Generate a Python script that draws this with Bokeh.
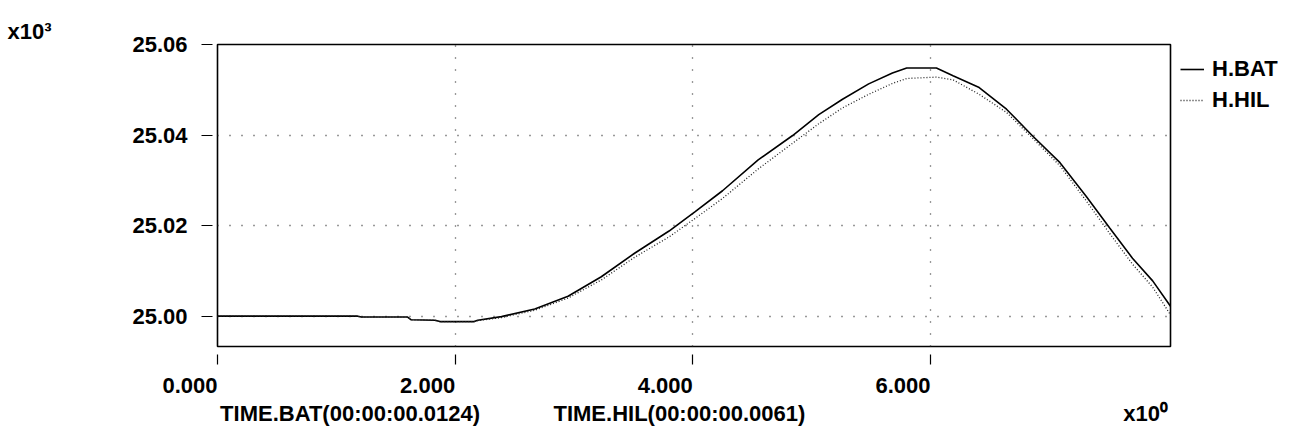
from bokeh.plotting import figure
from bokeh.models import (FixedTicker, PrintfTickFormatter, Legend, LegendItem,
                          Range1d, Title)
from bokeh.embed import file_html
from bokeh.resources import INLINE

# ---------------- data (values in x10^3) ----------------
time_s = [0.00, 1.18, 1.21, 1.60, 1.63, 1.83, 1.87, 2.16, 2.19, 2.39, 2.67, 2.95,
          3.23, 3.51, 3.80, 4.02, 4.25, 4.55, 4.84, 5.06, 5.26, 5.48, 5.68, 5.80,
          6.05, 6.19, 6.41, 6.64, 6.86, 7.09, 7.31, 7.51, 7.70, 7.87, 8.02]
h_bat = [25.0000, 25.0000, 24.9998, 24.9998, 24.9992, 24.9991, 24.9988, 24.9988,
         24.9991, 24.9999, 25.0016, 25.0044, 25.0087, 25.0139, 25.0188, 25.0231,
         25.0277, 25.0345, 25.0399, 25.0445, 25.0479, 25.0513, 25.0537, 25.0548,
         25.0548, 25.0531, 25.0505, 25.0457, 25.0398, 25.0339, 25.0265, 25.0194,
         25.0128, 25.0078, 25.0022]
h_hil = [25.0000, 25.0000, 24.9998, 24.9998, 24.9992, 24.9991, 24.9988, 24.9988,
         24.9990, 24.9997, 25.0013, 25.0040, 25.0080, 25.0130, 25.0175, 25.0216,
         25.0260, 25.0325, 25.0382, 25.0425, 25.0460, 25.0490, 25.0514, 25.0525,
         25.0528, 25.0522, 25.0490, 25.0450, 25.0393, 25.0332, 25.0255, 25.0182,
         25.0115, 25.0064, 25.0003]
series_names = ["H.BAT", "H.HIL"]
x_ticks = [0.0, 2.0, 4.0, 6.0]
y_ticks = [25.00, 25.02, 25.04, 25.06]
x_titles = ["TIME.BAT(00:00:00.0124)", "TIME.HIL(00:00:00.0061)"]
x_exp = "x10\u2070"
y_exp = "x10\u00b3"
x_min, x_max = 0.0, 8.02
y_min, y_max = 24.9933, 25.06

FONT = "Liberation Sans"
FS = "22px"
NB = "\u00a0"

# fixed frame size so that the side legend cannot take width from the frame
p = figure(frame_width=953, frame_height=302, output_backend="svg",
           toolbar_location=None,
           x_range=Range1d(x_min, x_max), y_range=Range1d(y_min, y_max),
           min_border_left=217, min_border_right=121, min_border_top=44,
           min_border_bottom=91, background_fill_color="white",
           border_fill_color="white")

p.outline_line_color = "black"
p.outline_line_width = 1.6
p.outline_line_alpha = 1.0

# grids
p.xgrid.ticker = FixedTicker(ticks=x_ticks)
p.ygrid.ticker = FixedTicker(ticks=y_ticks)
for g in (p.xgrid, p.ygrid):
    g.grid_line_color = "#333333"
    g.grid_line_width = 1.3
    g.grid_line_dash = "1 11"

# axes
for ax in (p.xaxis, p.yaxis):
    ax.axis_line_color = None
    ax.minor_tick_line_color = None
    ax.major_tick_in = 0
    ax.major_tick_line_color = "black"
    ax.major_tick_line_width = 1.2
    ax.major_label_text_font = FONT
    ax.major_label_text_font_style = "bold"
    ax.major_label_text_font_size = FS
    ax.major_label_text_color = "black"
    ax.axis_label_text_font = FONT
    ax.axis_label_text_font_style = "bold"
    ax.axis_label_text_font_size = FS
    ax.axis_label_text_color = "black"

p.yaxis.ticker = FixedTicker(ticks=y_ticks)
p.yaxis.formatter = PrintfTickFormatter(format="%.2f")
p.yaxis.major_tick_out = 16
p.yaxis.major_tick_line_dash = "11 5"
p.yaxis.major_label_standoff = 14

p.xaxis.ticker = FixedTicker(ticks=x_ticks)
p.xaxis.formatter = PrintfTickFormatter(format="%.3f")
p.xaxis.major_tick_out = 18
p.xaxis.major_tick_line_dash = "10 8"
p.xaxis.major_label_orientation = 0.0001   # labels end at their tick
p.xaxis.major_label_standoff = 21

# x-axis title line: two time labels and the x10^0 exponent, kept within the
# frame width (non-breaking spaces place each piece)
p.xaxis.axis_label = x_titles[0] + NB * 12 + x_titles[1] + NB * 52 + x_exp
p.xaxis.axis_label_standoff = -3

# y exponent in the top-left corner
p.add_layout(Title(text=y_exp, align="left", offset=-210, standoff=1,
                   text_font=FONT, text_font_style="bold", text_font_size=FS,
                   text_color="black", vertical_align="bottom"), "above")

# lines
r_bat = p.line(time_s, h_bat, line_color="black", line_width=1.6)
r_hil = p.line(time_s, h_hil, line_color="#222222", line_width=1.3, line_dash="1 2")

legend = Legend(items=[LegendItem(label=series_names[0], renderers=[r_bat]),
                       LegendItem(label=series_names[1], renderers=[r_hil])],
                location="top_left", padding=0, margin=10, spacing=1,
                glyph_width=24, glyph_height=20, label_height=30, label_standoff=8,
                label_text_font=FONT, label_text_font_style="bold",
                label_text_font_size=FS, label_text_color="black",
                border_line_color=None, background_fill_alpha=0)
p.add_layout(legend, "right")

open("out.html", "w").write(file_html(p, INLINE))
